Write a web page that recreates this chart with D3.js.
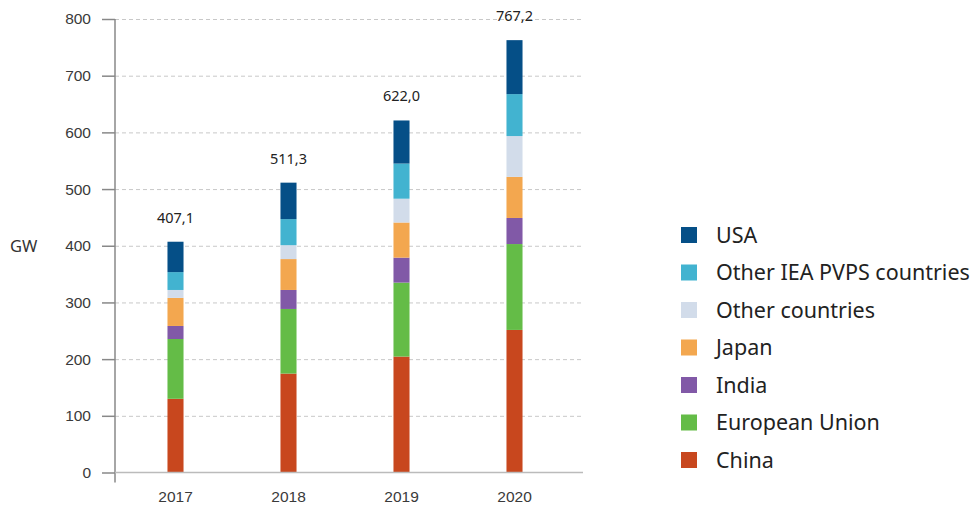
<!DOCTYPE html>
<html>
<head>
<meta charset="utf-8">
<script src="https://cdn.jsdelivr.net/npm/d3@7"></script>
<style>
  body { margin: 0; background: #fff; }
  svg { font-family: "Noto Sans", "Open Sans", sans-serif; }
  .tick text { fill: #3a3a3a; font-size: 15.5px; }
  .grid line { stroke: #c8c8c8; stroke-dasharray: 4 3; }
  .grid path { display: none; }
  .legend text { fill: #222; font-size: 21.5px; }
</style>
</head>
<body>
<svg width="976" height="508"></svg>
<script>
const years = ['2017', '2018', '2019', '2020'];
const totals = ['407,1', '511,3', '622,0', '767,2'];

// stacking order, bottom to top
const series = ['China', 'European Union', 'India', 'Japan', 'Other countries', 'Other IEA PVPS countries', 'USA'];
const colors = ['#c8471e', '#64bc47', '#8159a7', '#f3a74f', '#d2dcea', '#42b3d0', '#054f87'];

const china = [130.0, 174.5, 204.5, 251.5];
const eu = [105.5, 114.0, 130.5, 151.5];
const india = [23.0, 33.5, 44.0, 46.0];
const japan = [49.5, 54.5, 62.0, 72.5];
const otherCountries = [14.0, 24.5, 42.0, 72.0];
const otherIea = [31.5, 46.0, 62.0, 74.0];
const usa = [53.6, 64.3, 76.0, 95.2];

const values = [china, eu, india, japan, otherCountries, otherIea, usa];

const margin = {top: 19, left: 115};
const width = 468;
const height = 453.5;

const svg = d3.select('svg');
const chart = svg.append('g')
                 .attr('transform', `translate(${margin.left}, ${margin.top})`);

const yScale = d3.scaleLinear()
                 .domain([0, 800])
                 .range([height, 0]);

const xScale = d3.scaleBand()
                 .domain(years)
                 .range([4, 456])
                 .paddingInner(0.858)
                 .paddingOuter(0.429);

// dashed grid
chart.append('g')
     .attr('class', 'grid')
     .call(d3.axisLeft(yScale)
             .ticks(8)
             .tickSize(-width)
             .tickFormat(''))
     .selectAll('.tick')
     .filter(d => d === 0)
     .remove();

const rows = years.map((y, i) => {
    const r = {year: y};
    series.forEach((s, j) => r[s] = values[j][i]);
    return r;
});

const stacked = d3.stack().keys(series)(rows);

chart.selectAll('.layer')
     .data(stacked)
     .enter()
     .append('g')
     .attr('fill', (d, i) => colors[i])
     .selectAll('rect')
     .data(d => d)
     .enter()
     .append('rect')
     .attr('x', d => xScale(d.data.year))
     .attr('y', d => yScale(d[1]))
     .attr('width', xScale.bandwidth())
     .attr('height', d => yScale(d[0]) - yScale(d[1]));

// totals above bars
chart.selectAll('.total')
     .data(years)
     .enter()
     .append('text')
     .attr('x', d => xScale(d) + xScale.bandwidth() / 2)
     .attr('y', (d, i) => yScale(d3.sum(values, v => v[i])) - 19)
     .attr('text-anchor', 'middle')
     .attr('fill', '#222')
     .style('font-size', '14.5px')
     .text((d, i) => totals[i]);

// y axis
const yAxis = chart.append('g')
     .call(d3.axisLeft(yScale).ticks(8).tickSize(13).tickPadding(11));
yAxis.select('.domain').remove();
yAxis.selectAll('line').attr('stroke', '#888').attr('stroke-width', 1.5);
yAxis.append('line')
     .attr('x1', 0).attr('x2', 0)
     .attr('y1', 0).attr('y2', height + 10)
     .attr('stroke', '#888').attr('stroke-width', 1.5);

// x axis
const xAxis = chart.append('g')
     .attr('transform', `translate(0, ${height})`)
     .call(d3.axisBottom(xScale).tickSize(0).tickPadding(18));
xAxis.select('.domain').remove();
xAxis.append('line')
     .attr('x1', 0).attr('x2', width)
     .attr('stroke', '#bbb').attr('stroke-width', 1.5);

svg.append('text')
   .attr('x', 10)
   .attr('y', 252)
   .attr('fill', '#333')
   .style('font-size', '16.5px')
   .text('GW');

// legend, top to bottom
const legend = svg.append('g')
                  .attr('class', 'legend')
                  .attr('transform', 'translate(681, 227)');

const legendItems = legend.selectAll('g')
      .data(series.slice().reverse())
      .enter()
      .append('g')
      .attr('transform', (d, i) => `translate(0, ${i * 37.5})`);

legendItems.append('rect')
           .attr('width', 16)
           .attr('height', 16)
           .attr('fill', d => colors[series.indexOf(d)]);

legendItems.append('text')
           .attr('x', 35)
           .attr('y', 15.5)
           .text(d => d);
</script>
</body>
</html>
